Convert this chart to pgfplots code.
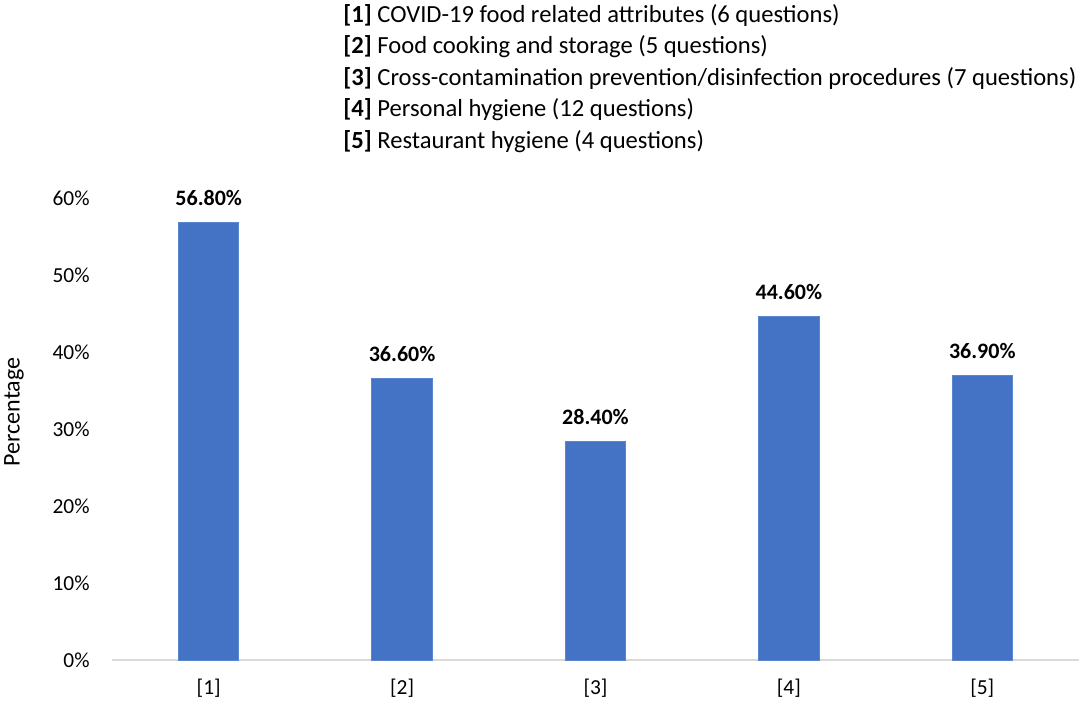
\documentclass[border=0pt]{standalone}
\usepackage{pgfplots}
\pgfplotsset{compat=1.18}
\usepackage{fontspec}
\setmainfont{Carlito}
\definecolor{barblue}{HTML}{4472C4}
\definecolor{baredge}{HTML}{5A86D0}
\definecolor{axisgrey}{HTML}{D9D9D9}
\tikzset{leglines/.style={anchor=base west, inner sep=0pt, font=\fontsize{12.3}{14}\selectfont}}
\begin{document}
\begin{tikzpicture}
\begin{axis}[
  scale only axis,
  width=483.5pt, height=231pt,
  xmin=-0.5, xmax=4.5,
  ymin=0, ymax=60,
  ytick={0,10,20,30,40,50,60},
  yticklabel={\pgfmathprintnumber{\tick}\%},
  /pgf/number format/assume math mode=true,
  xtick={0,1,2,3,4},
  xticklabels={[1],[2],[3],[4],[5]},
  major tick length=0pt,
  axis line style={draw=none},
  axis x line*=bottom,
  axis y line*=left,
  tick label style={font=\fontsize{10.7}{12}\selectfont, text=black},
  yticklabel style={anchor=east, inner sep=0pt, xshift=-11pt},
  xticklabel style={anchor=center, inner sep=0pt, yshift=-14pt},
  clip=false,
  ybar, bar width=30.2pt,
  nodes near coords={\pgfplotspointmeta},
  point meta=explicit symbolic,
  every node near coord/.append style={anchor=base, yshift=8.5pt, inner sep=0pt, font=\fontsize{11}{13}\selectfont\bfseries, text=black},
]
\draw[axisgrey, line width=0.9pt] (rel axis cs:0,0) -- (rel axis cs:1,0);
\addplot[fill=barblue, draw=baredge, line width=0.5pt] coordinates {
  (0,56.8) [56.80\%]
  (1,36.6) [36.60\%]
  (2,28.4) [28.40\%]
  (3,44.6) [44.60\%]
  (4,36.9) [36.90\%]
};
\coordinate (bl) at (rel axis cs:0,0);
\coordinate (tr) at (rel axis cs:1,1);
\node[xshift=-49pt, yshift=124pt, rotate=90, font=\fontsize{12}{14}\selectfont, inner sep=0pt] at (rel axis cs:0,0) {Percentage};
\node[leglines, xshift=115.5pt, yshift=88pt] at (rel axis cs:0,1) {\textbf{[1]} COVID-19 food related attributes (6 questions)};
\node[leglines, xshift=115.5pt, yshift=72.25pt] at (rel axis cs:0,1) {\textbf{[2]} Food cooking and storage (5 questions)};
\node[leglines, xshift=115.5pt, yshift=56.5pt] at (rel axis cs:0,1) {\textbf{[3]} Cross-contamination prevention/disinfection procedures (7 questions)};
\node[leglines, xshift=115.5pt, yshift=40.75pt] at (rel axis cs:0,1) {\textbf{[4]} Personal hygiene (12 questions)};
\node[leglines, xshift=115.5pt, yshift=25pt] at (rel axis cs:0,1) {\textbf{[5]} Restaurant hygiene (4 questions)};
\end{axis}
\pgfresetboundingbox
\path ([shift={(-56pt,-21pt)}]bl) rectangle ([shift={(2.5pt,99pt)}]tr);
\end{tikzpicture}
\end{document}
